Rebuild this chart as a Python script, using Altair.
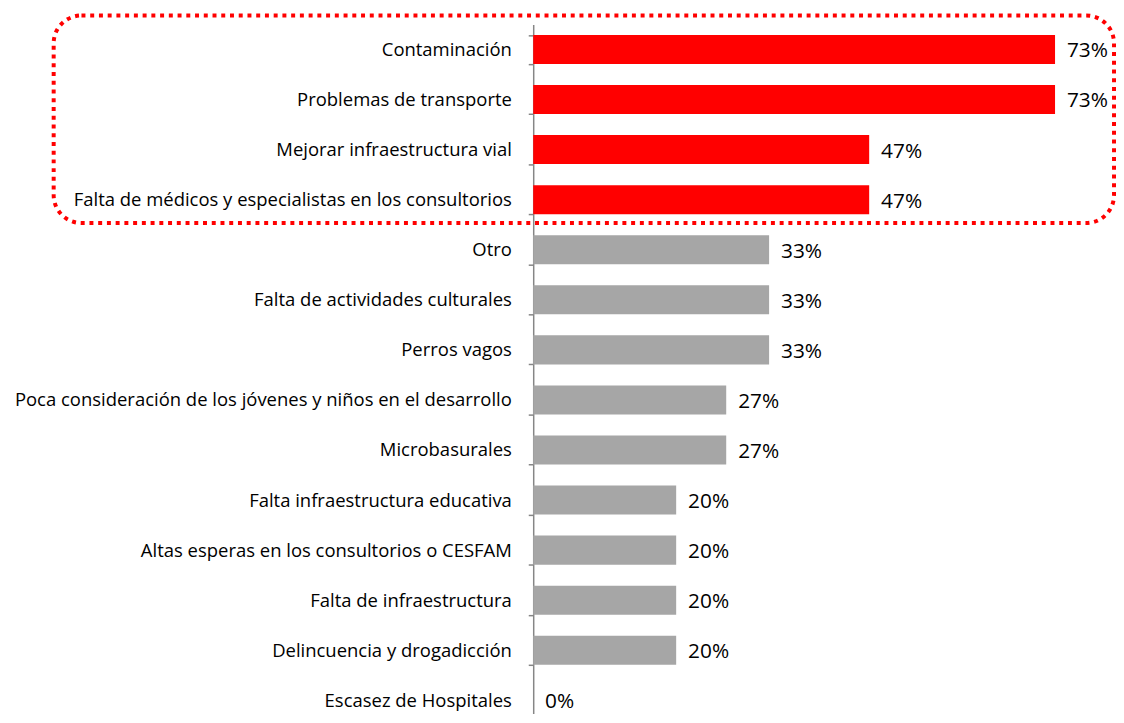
import altair as alt
import pandas as pd

categories = [
    "Contaminación",
    "Problemas de transporte",
    "Mejorar infraestructura vial",
    "Falta de médicos y especialistas en los consultorios",
    "Otro",
    "Falta de actividades culturales",
    "Perros vagos",
    "Poca consideración de los jóvenes y niños en el desarrollo",
    "Microbasurales",
    "Falta infraestructura educativa",
    "Altas esperas en los consultorios o CESFAM",
    "Falta de infraestructura",
    "Delincuencia y drogadicción",
    "Escasez de Hospitales",
]
values = [73, 73, 47, 47, 33, 33, 33, 27, 27, 20, 20, 20, 20, 0]
highlighted = [True, True, True, True] + [False] * 10

df = pd.DataFrame({"cat": categories, "v": values, "hl": highlighted})
df["label"] = df["v"].astype(str) + "%"

FONT = "Open Sans"
W, H = 576, 692

y_enc = alt.Y(
    "cat:N",
    sort=categories,
    title=None,
    scale=alt.Scale(range=[0, 706], paddingInner=0.42, paddingOuter=0.21),
    axis=alt.Axis(
        domainColor="#868686",
        domainWidth=1.5,
        tickColor="#868686",
        tickWidth=1.5,
        tickSize=5,
        tickBand="extent",
        labelPadding=17,
        labelFont=FONT,
        labelFontSize=18.6,
        labelColor="#000000",
        labelLimit=700,
    ),
)
x_enc = alt.X("v:Q", scale=alt.Scale(domain=[0, 80]), axis=None)

bars = alt.Chart(df).mark_bar().encode(
    y=y_enc,
    x=x_enc,
    color=alt.Color(
        "hl:N",
        scale=alt.Scale(domain=[True, False], range=["#ff0000", "#a6a6a6"]),
        legend=None,
    ),
)

texts = alt.Chart(df).mark_text(
    align="left", baseline="middle", dx=12, dy=2, font=FONT, fontSize=21, color="#000000"
).encode(y=alt.Y("cat:N", sort=categories), x=x_enc, text="label:N")

box = alt.Chart(alt.Data(values=[{}])).mark_rect(
    fill="transparent",
    stroke="#ff0000",
    strokeWidth=4,
    strokeDash=[4, 4.8],
    cornerRadius=28,
).encode(
    x=alt.value(-483), x2=alt.value(585), y=alt.value(-9), y2=alt.value(200)
)

chart = alt.layer(bars, texts, box).properties(
    width=W,
    height=H,
    padding={"left": 529, "top": 14, "right": 11, "bottom": 0},
    autosize=alt.AutoSizeParams(type="none"),
).configure_view(stroke=None)

chart.save("out.html", embed_options={"renderer": "svg", "actions": False})
